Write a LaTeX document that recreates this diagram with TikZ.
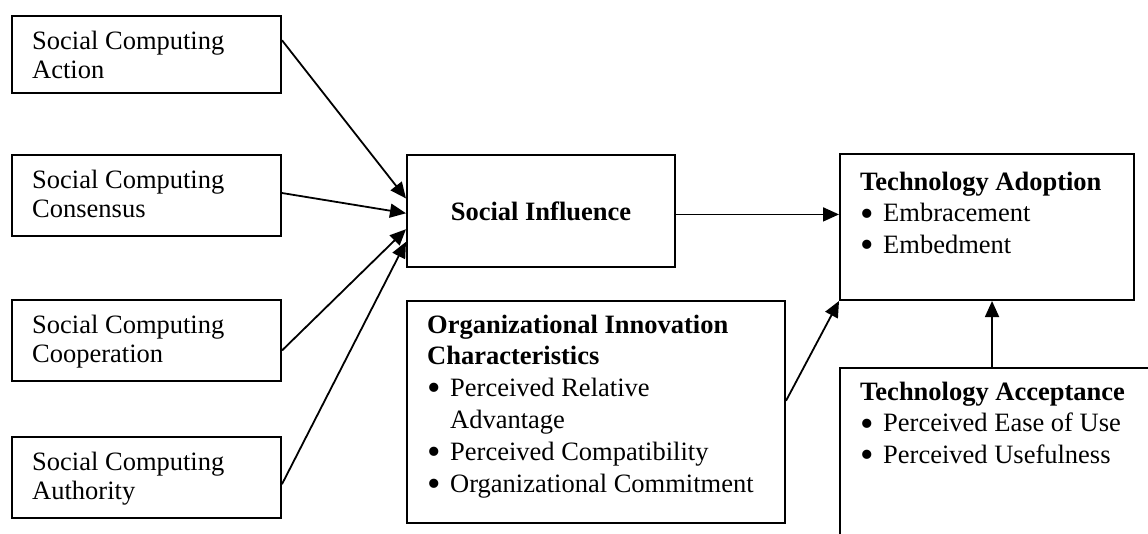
\documentclass[tikz,border=0pt]{standalone}
\usepackage{fontspec}
\setmainfont{Liberation Serif}
\usetikzlibrary{arrows.meta,calc}
% bullet item: enlarged bullet in a fixed-width slot, then the item text
\newcommand{\bulletitem}[1]{\makebox[23pt][l]{\smash{\raisebox{-0.16em}{\scalebox{1.45}{\textbullet}}}}#1}
\begin{document}
\begin{tikzpicture}[x=1pt,y=-1pt,
  box/.style={draw,line width=2pt,rectangle,inner sep=0pt,anchor=north west},
  lbl/.style={anchor=base west,inner sep=0pt,font=\fontsize{26.5pt}{29pt}\selectfont},
  lst/.style={anchor=base west,inner sep=0pt,font=\fontsize{26.5pt}{31.8pt}\selectfont},
  link/.style={line width=1.8pt,-{Triangle[length=16pt,width=14pt]}}]
\useasboundingbox (0,0) rectangle (1148,533);
\clip (0,0) rectangle (1148,533);

% social computing boxes
\node[box,minimum width=269pt,minimum height=77pt] (sc1) at (11,15) {};
\node[box,minimum width=269pt,minimum height=81pt] (sc2) at (11,154) {};
\node[box,minimum width=269pt,minimum height=81pt] (sc3) at (11,299) {};
\node[box,minimum width=269pt,minimum height=81pt] (sc4) at (11,436) {};
\node[lbl] (sc1t) at (32,49) {\parbox[t]{240pt}{Social Computing\\Action}};
\node[lbl] (sc2t) at (32,188) {\parbox[t]{240pt}{Social Computing\\Consensus}};
\node[lbl] (sc3t) at (32,333) {\parbox[t]{240pt}{Social Computing\\Cooperation}};
\node[lbl] (sc4t) at (32,470) {\parbox[t]{240pt}{Social Computing\\Authority}};

% social influence
\node[box,minimum width=268pt,minimum height=112pt] (si) at (406,154) {};
\node[inner sep=0pt,font=\fontsize{26.5pt}{29pt}\selectfont\bfseries] (sit) at (si.center) {Social Influence};

% organizational innovation characteristics
\node[box,minimum width=378pt,minimum height=222pt] (oic) at (406,300) {};
\node[lst] (oict) at (427,333) {\parbox[t]{350pt}{%
  \textbf{Organizational Innovation}\\
  \textbf{Characteristics}\\
  \bulletitem{Perceived Relative}\\
  \hspace*{23pt}Advantage\\
  \bulletitem{Perceived Compatibility}\\
  \bulletitem{Organizational Commitment}}};

% technology adoption
\node[box,minimum width=294pt,minimum height=146pt] (ta) at (839,153) {};
\node[lst] (tat) at (860,190) {\parbox[t]{270pt}{%
  \textbf{Technology Adoption}\\
  \bulletitem{Embracement}\\
  \bulletitem{Embedment}}};

% technology acceptance (runs past the right and bottom edges)
\node[box,minimum width=400pt,minimum height=300pt] (tacc) at (839,367) {};
\node[lst] (tacct) at (860,400) {\parbox[t]{280pt}{%
  \textbf{Technology Acceptance}\\
  \bulletitem{Perceived Ease of Use}\\
  \bulletitem{Perceived Usefulness}}};

% connectors
\draw[link] ($(sc1.north east)!0.32!(sc1.south east)$) -- ($(si.north west)!0.39!(si.south west)$);
\draw[link] ($(sc2.north east)!0.47!(sc2.south east)$) -- ($(si.north west)!0.52!(si.south west)$);
\draw[link] ($(sc3.north east)!0.62!(sc3.south east)$) -- ($(si.north west)!0.66!(si.south west)$);
\draw[link] ($(sc4.north east)!0.58!(sc4.south east)$) -- ($(si.north west)!0.77!(si.south west)$);
\coordinate (siout) at ($(si.north east)!0.53!(si.south east)$);
\draw[link] (siout) -- (siout -| ta.west);
\draw[link] ($(oic.north east)!0.45!(oic.south east)$) -- (ta.south west);
\coordinate (tain) at ($(ta.south west)!0.517!(ta.south east)$);
\draw[link] (tain |- tacc.north) -- (tain);
\end{tikzpicture}
\end{document}
